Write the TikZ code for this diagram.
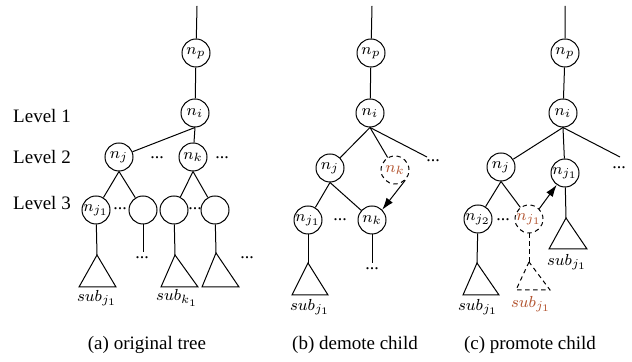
\documentclass[tikz,border=0pt]{standalone}
\usepackage{fontspec}
\setmainfont{Liberation Serif}
\usetikzlibrary{arrows.meta}
\definecolor{moved}{RGB}{178,84,48}
\tikzset{
  tnode/.style={circle,draw,minimum size=14pt,inner sep=0pt,font=\footnotesize},
  ghost/.style={tnode,dash pattern=on 2.2pt off 1.8pt,text=moved},
  moveline/.style={dash pattern=on 2.2pt off 1.8pt},
  dotsnode/.style={font=\small,inner sep=0pt},
  sublabel/.style={font=\footnotesize,inner sep=0pt},
  levellabel/.style={font=\fontsize{9.5}{11}\selectfont,inner sep=0pt},
  caption/.style={font=\fontsize{9.5}{11}\selectfont,inner sep=0pt}
}
\begin{document}
\begin{tikzpicture}[x=0.5pt,y=-0.5pt,line width=0.5pt]
\useasboundingbox (0,0) rectangle (632,362);

% level labels
\node[levellabel] (lev1) at (42,116) {Level 1};
\node[levellabel] (lev2) at (42,157) {Level 2};
\node[levellabel] (lev3) at (42,203) {Level 3};

% (a) original tree
\coordinate (a-top) at (197,6);
\node[tnode] (a-np) at (196,53) {$n_p$};
\node[tnode] (a-ni) at (195,113) {$n_i$};
\node[tnode] (a-nj) at (119,157) {$n_j$};
\node[dotsnode] (a-d1) at (157,158) {...};
\node[tnode] (a-nk) at (193,157) {$n_k$};
\node[dotsnode] (a-d2) at (222,158) {...};
\node[tnode] (a-nj1) at (96,210) {$n_{j_1}$};
\node[dotsnode] (a-d3) at (120,209) {...};
\node[tnode] (a-c2) at (143,210) {};
\node[tnode] (a-c3) at (174,210) {};
\node[dotsnode] (a-d4) at (195,209) {...};
\node[tnode] (a-c4) at (215,210) {};
\coordinate (a-t1) at (97,255);
\coordinate (a-e2) at (143,252);
\node[dotsnode] (a-d5) at (142,258) {...};
\coordinate (a-t3) at (175,255);
\coordinate (a-t4) at (216,253);
\node[dotsnode] (a-d6) at (247,258) {...};

\draw (a-top) -- (a-np) -- (a-ni);
\draw (a-ni.south) -- (a-nj);
\draw (a-ni.south) -- (a-nk);
\draw (a-nj.south) -- (a-nj1);
\draw (a-nj.south) -- (a-c2);
\draw (a-nk.south) -- (a-c3);
\draw (a-nk.south) -- (a-c4);
\draw (a-nj1) -- (a-t1);
\draw (a-c2) -- (a-e2);
\draw (a-c3) -- (a-t3);
\draw (a-c4) -- (a-t4);
\draw (a-t1) -- ++(-18,32) -- ++(37,0) -- cycle;
\draw (a-t3) -- ++(-14,32) -- ++(37,0) -- cycle;
\draw (a-t4) -- ++(-14,34) -- ++(37,0) -- cycle;
\node[sublabel] (a-s1) at (97,298) {$sub_{j_1}$};
\node[sublabel] (a-s2) at (177,298) {$sub_{k_1}$};

% (b) demote child
\coordinate (b-top) at (372,6);
\node[tnode] (b-np) at (371,53) {$n_p$};
\node[tnode] (b-ni) at (370,113) {$n_i$};
\node[tnode] (b-nj) at (330,168) {$n_j$};
\node[ghost] (b-nkold) at (395,170) {$n_k$};
\coordinate (b-e1) at (427,157);
\node[dotsnode] (b-d1) at (433,161) {...};
\node[tnode] (b-nj1) at (308,220) {$n_{j_1}$};
\node[dotsnode] (b-d2) at (340,220) {...};
\node[tnode] (b-nk) at (372,220) {$n_k$};
\coordinate (b-t1) at (308,263);
\coordinate (b-e2) at (372,263);
\node[dotsnode] (b-d3) at (372,269) {...};

\draw (b-top) -- (b-np) -- (b-ni);
\draw (b-ni.south) -- (b-nj);
\draw (b-ni.south) -- (b-nkold);
\draw (b-ni.south) -- (b-e1);
\draw (b-nj.south) -- (b-nj1);
\draw (b-nj.south) -- (b-nk);
\draw (b-nj1) -- (b-t1);
\draw (b-nk) -- (b-e2);
\draw (b-t1) -- ++(-16,32) -- ++(36,0) -- cycle;
\draw[-{Latex[length=6pt,width=4pt]}] (b-nkold.-45) -- (b-nk.45);
\node[sublabel] (b-s1) at (310,307) {$sub_{j_1}$};

% (c) promote child
\coordinate (c-top) at (565,6);
\node[tnode] (c-np) at (565,53) {$n_p$};
\node[tnode] (c-ni) at (563,113) {$n_i$};
\node[tnode] (c-nj) at (501,167) {$n_j$};
\node[tnode] (c-nj1) at (565,173) {$n_{j_1}$};
\coordinate (c-e1) at (620,157);
\node[dotsnode] (c-d1) at (619,168) {...};
\node[tnode] (c-nj2) at (478,219) {$n_{j_2}$};
\node[dotsnode] (c-d2) at (503,220) {...};
\node[ghost] (c-nj1old) at (529,219) {$n_{j_1}$};
\coordinate (c-t1) at (477,263);
\coordinate (c-t2) at (529,262);
\coordinate (c-t3) at (566,218);

\draw (c-top) -- (c-np) -- (c-ni);
\draw (c-ni.south) -- (c-nj);
\draw (c-ni.south) -- (c-nj1);
\draw (c-ni.south) -- (c-e1);
\draw (c-nj.south) -- (c-nj2);
\draw (c-nj.south) -- (c-nj1old);
\draw (c-nj2) -- (c-t1);
\draw (c-nj1) -- (c-t3);
\draw[moveline] (c-nj1old) -- (c-t2);
\draw (c-t1) -- ++(-14,32) -- ++(36,0) -- cycle;
\draw (c-t3) -- ++(-17,31) -- ++(38,0) -- cycle;
\draw[moveline] (c-t2) -- ++(-13,28) -- ++(34,0) -- cycle;
\draw[-{Latex[length=6pt,width=4pt]}] (c-nj1old.45) -- (c-nj1.-125);
\node[sublabel] (c-s1) at (478,307) {$sub_{j_1}$};
\node[sublabel,text=moved] (c-s2) at (531,304) {$sub_{j_1}$};
\node[sublabel] (c-s3) at (567,262) {$sub_{j_1}$};

% captions
\node[caption] (cap-a) at (147,345) {(a) original tree};
\node[caption] (cap-b) at (355,345) {(b) demote child};
\node[caption] (cap-c) at (530,345) {(c) promote child};
\end{tikzpicture}
\end{document}
